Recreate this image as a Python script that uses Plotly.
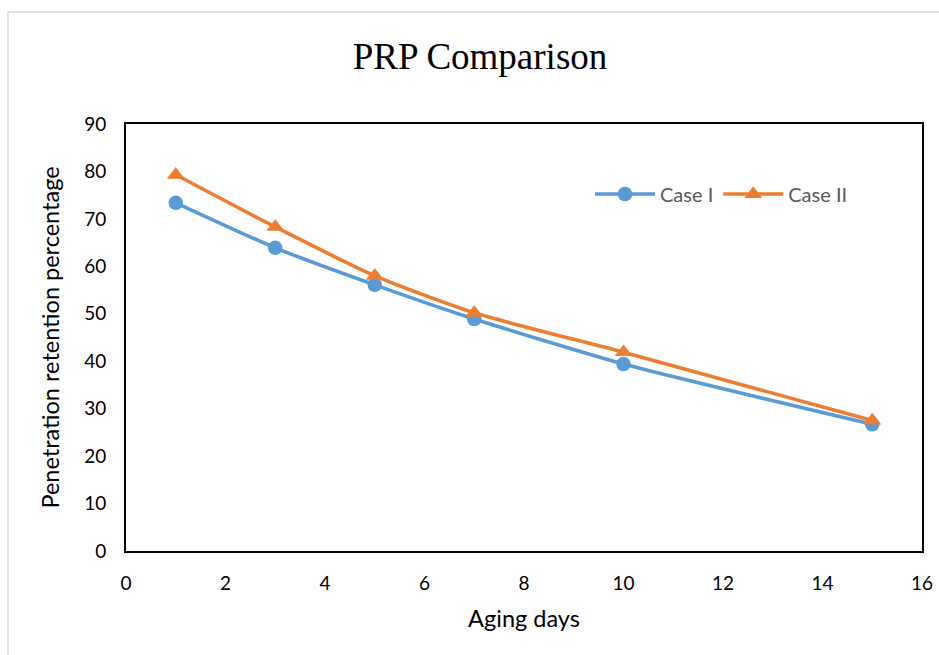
import plotly.graph_objects as go

# Aging days and penetration retention percentage for the two cases
aging_days = [1, 3, 5, 7, 10, 15]
case_1 = [73.4, 63.9, 56.1, 48.9, 39.4, 26.7]
case_2 = [79.3, 68.3, 58.0, 50.2, 41.9, 27.5]

x_ticks = [0, 2, 4, 6, 8, 10, 12, 14, 16]
y_ticks = [0, 10, 20, 30, 40, 50, 60, 70, 80, 90]

BLUE = "#5B9BD5"
ORANGE = "#ED7D31"
W, H = 939, 655
L, R, T, B = 126, 17, 124, 104
pw, ph = W - L - R, H - T - B

fig = go.Figure()
fig.add_trace(go.Scatter(
    x=aging_days, y=case_1, name="Case I", mode="lines+markers",
    line=dict(color=BLUE, width=3.6, shape="spline", smoothing=0.6),
    marker=dict(symbol="circle", size=14.5, color=BLUE),
))
fig.add_trace(go.Scatter(
    x=aging_days, y=case_2, name="Case II", mode="lines+markers",
    line=dict(color=ORANGE, width=3.6, shape="spline", smoothing=0.6),
    marker=dict(symbol="triangle-up", size=15.5, color=ORANGE),
))

tick_font = dict(family="Lato, Open Sans, sans-serif", size=19, color="#000000")
title_font = dict(family="Lato, Open Sans, sans-serif", size=23.5, color="#000000")

fig.update_layout(
    width=W, height=H,
    margin=dict(l=L, r=R, t=T, b=B, autoexpand=False),
    paper_bgcolor="white", plot_bgcolor="white",
    title=dict(
        text="PRP Comparison", x=480 / W, xanchor="center",
        y=1 - 56 / H, yanchor="middle",
        font=dict(family="Liberation Serif, Times New Roman, serif", size=37, color="#000000"),
    ),
    xaxis=dict(
        range=[0, 16], tickvals=x_ticks, showgrid=False, zeroline=False,
        showline=True, linecolor="#000000", linewidth=2, mirror=True,
        ticks="", tickfont=tick_font, ticklabelstandoff=14, automargin=False,
        title=dict(text="Aging days", font=title_font, standoff=18),
    ),
    yaxis=dict(
        range=[0, 90], tickvals=y_ticks, showgrid=False, zeroline=False,
        showline=True, linecolor="#000000", linewidth=2, mirror=True,
        ticks="", tickfont=tick_font, ticklabelstandoff=14, automargin=False,
        title=dict(text="Penetration retention percentage", font=title_font, standoff=18),
    ),
    legend=dict(
        orientation="h", x=(590 - L) / pw, xanchor="left",
        y=1 - (194 - T) / ph, yanchor="middle",
        font=dict(family="Lato, Open Sans, sans-serif", size=20, color="#595959"),
        bgcolor="rgba(0,0,0,0)", itemwidth=60,
    ),
    showlegend=True,
)

# Light chart-area frame (left and top edges)
x_left = (8 - L) / pw
y_top = 1 + (T - 12) / ph
fig.add_shape(type="line", xref="paper", yref="paper",
              x0=x_left, x1=(W - L) / pw + 0.01, y0=y_top, y1=y_top,
              line=dict(color="#d9d9d9", width=1.5))
fig.add_shape(type="line", xref="paper", yref="paper",
              x0=x_left, x1=x_left, y0=y_top, y1=-B / ph - 0.01,
              line=dict(color="#d9d9d9", width=1.5))

fig.write_html("out.html")
